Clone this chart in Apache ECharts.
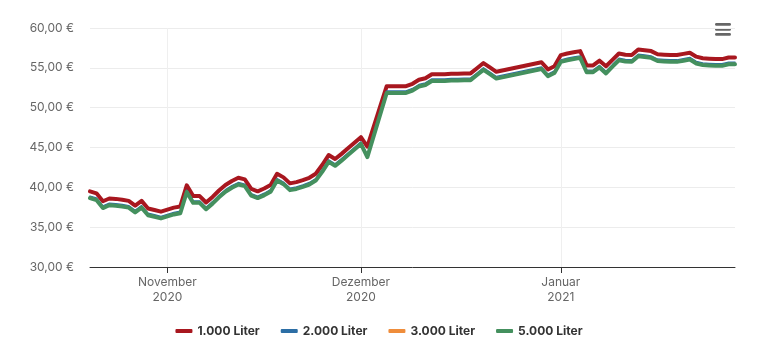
<!DOCTYPE html>
<html lang="de">
<head>
<meta charset="utf-8">
<title>Heizölpreis</title>
<script src="https://cdn.jsdelivr.net/npm/echarts@6/dist/echarts.min.js"></script>
<style>
  html, body { margin: 0; padding: 0; background: #fff; }
  #chart { width: 758px; height: 348px; }
</style>
</head>
<body>
<div id="chart"></div>
<script>
// Price history (€ per 100 L) by order quantity
const dates = [
  '2020-10-20','2020-10-21','2020-10-22','2020-10-23','2020-10-24','2020-10-25','2020-10-26','2020-10-27','2020-10-28','2020-10-29','2020-10-30','2020-10-31',
  '2020-11-01','2020-11-02','2020-11-03','2020-11-04','2020-11-05','2020-11-06','2020-11-07','2020-11-08','2020-11-09','2020-11-10',
  '2020-11-11','2020-11-12','2020-11-13','2020-11-14','2020-11-15','2020-11-16','2020-11-17','2020-11-18','2020-11-19','2020-11-20',
  '2020-11-21','2020-11-22','2020-11-23','2020-11-24','2020-11-25','2020-11-26','2020-11-27','2020-11-28','2020-11-29','2020-11-30',
  '2020-12-01','2020-12-02',
  '2020-12-05','2020-12-06','2020-12-07','2020-12-08','2020-12-09','2020-12-10','2020-12-11','2020-12-12','2020-12-13','2020-12-14',
  '2020-12-15','2020-12-16','2020-12-17','2020-12-18','2020-12-19','2020-12-20','2020-12-21','2020-12-22',
  '2020-12-29','2020-12-30','2020-12-31',
  '2021-01-01','2021-01-02','2021-01-03','2021-01-04','2021-01-05','2021-01-06','2021-01-07','2021-01-08','2021-01-09','2021-01-10',
  '2021-01-11','2021-01-12','2021-01-13','2021-01-14','2021-01-15','2021-01-16','2021-01-17','2021-01-18','2021-01-19','2021-01-20',
  '2021-01-21','2021-01-22','2021-01-23','2021-01-24','2021-01-25','2021-01-26','2021-01-27','2021-01-28'
];

const liter1000 = [
  39.5, 39.25, 38.25, 38.6, 38.55, 38.45, 38.3, 37.7, 38.3, 37.35, 37.15, 36.95,
  37.2, 37.45, 37.6, 40.25, 38.9, 38.9, 38.1, 38.8, 39.6, 40.3,
  40.8, 41.2, 41.0, 39.8, 39.5, 39.85, 40.3, 41.7, 41.25, 40.5,
  40.65, 40.9, 41.2, 41.7, 42.8, 44.05, 43.55, 44.2, 44.9, 45.6,
  46.3, 45.1,
  52.7, 52.7, 52.7, 52.7, 53.0, 53.5, 53.7, 54.2, 54.2, 54.2,
  54.25, 54.25, 54.3, 54.3, 54.95, 55.6, 55.05, 54.5,
  55.7, 54.8, 55.2,
  56.6, 56.8, 56.95, 57.1, 55.3, 55.3, 55.9, 55.2, 56.0, 56.8,
  56.65, 56.6, 57.3, 57.2, 57.1, 56.7, 56.65, 56.6, 56.6, 56.75,
  56.9, 56.4, 56.2, 56.15, 56.1, 56.1, 56.3, 56.3
];

const liter2000 = [
  38.9, 38.65, 37.65, 38.0, 37.95, 37.85, 37.7, 37.1, 37.7, 36.75, 36.55, 36.35,
  36.6, 36.85, 37.0, 39.65, 38.3, 38.3, 37.5, 38.2, 39.0, 39.7,
  40.2, 40.6, 40.4, 39.2, 38.9, 39.25, 39.7, 41.1, 40.65, 39.9,
  40.05, 40.3, 40.6, 41.1, 42.2, 43.45, 42.95, 43.6, 44.3, 45.0,
  45.7, 44.05,
  52.1, 52.1, 52.1, 52.1, 52.4, 52.9, 53.1, 53.6, 53.6, 53.6,
  53.65, 53.65, 53.7, 53.7, 54.35, 55.0, 54.45, 53.9,
  55.1, 54.2, 54.6,
  56.0, 56.2, 56.35, 56.5, 54.7, 54.7, 55.3, 54.55, 55.4, 56.2,
  56.05, 56.0, 56.7, 56.6, 56.5, 56.1, 56.05, 56.0, 56.0, 56.15,
  56.3, 55.8, 55.6, 55.55, 55.5, 55.5, 55.7, 55.7
];

const liter3000 = [
  38.75, 38.5, 37.5, 37.85, 37.8, 37.7, 37.55, 36.95, 37.55, 36.6, 36.4, 36.2,
  36.45, 36.7, 36.85, 39.5, 38.15, 38.15, 37.35, 38.05, 38.85, 39.55,
  40.05, 40.45, 40.25, 39.05, 38.75, 39.1, 39.55, 40.95, 40.5, 39.75,
  39.9, 40.15, 40.45, 40.95, 42.05, 43.3, 42.8, 43.45, 44.15, 44.85,
  45.55, 43.9,
  51.95, 51.95, 51.95, 51.95, 52.25, 52.75, 52.95, 53.45, 53.45, 53.45,
  53.5, 53.5, 53.55, 53.55, 54.2, 54.85, 54.3, 53.75,
  54.95, 54.05, 54.45,
  55.85, 56.05, 56.2, 56.35, 54.55, 54.55, 55.15, 54.4, 55.25, 56.05,
  55.9, 55.85, 56.55, 56.45, 56.35, 55.95, 55.9, 55.85, 55.85, 56.0,
  56.15, 55.65, 55.45, 55.4, 55.35, 55.35, 55.55, 55.55
];

const liter5000 = [
  38.65, 38.4, 37.4, 37.75, 37.7, 37.6, 37.45, 36.85, 37.45, 36.5, 36.3, 36.1,
  36.35, 36.6, 36.75, 39.4, 38.05, 38.05, 37.25, 37.95, 38.75, 39.45,
  39.95, 40.35, 40.15, 38.95, 38.65, 39.0, 39.45, 40.85, 40.4, 39.65,
  39.8, 40.05, 40.35, 40.85, 41.95, 43.2, 42.7, 43.35, 44.05, 44.75,
  45.45, 43.8,
  51.85, 51.85, 51.85, 51.85, 52.15, 52.65, 52.85, 53.35, 53.35, 53.35,
  53.4, 53.4, 53.45, 53.45, 54.1, 54.75, 54.2, 53.65,
  54.85, 53.95, 54.35,
  55.75, 55.95, 56.1, 56.25, 54.45, 54.45, 55.05, 54.3, 55.15, 55.95,
  55.8, 55.75, 56.45, 56.35, 56.25, 55.85, 55.8, 55.75, 55.75, 55.9,
  56.05, 55.55, 55.35, 55.3, 55.25, 55.25, 55.45, 55.45
];

const seriesNames = ['1.000 Liter', '2.000 Liter', '3.000 Liter', '5.000 Liter'];
const monthTicks = ['2020-11-01', '2020-12-01', '2021-01-01'];
const monthNames = ['Januar', 'Februar', 'März', 'April', 'Mai', 'Juni', 'Juli',
  'August', 'September', 'Oktober', 'November', 'Dezember'];
const yMin = 30, yMax = 60, yStep = 5;

const FONT = 'Inter, "Noto Sans", sans-serif';
const colors = ['#a8171f', '#2c6ea5', '#ef8d3b', '#44905e'];
const widths = [4, 1.5, 1.5, 4];

// dates are placed on a numeric (millisecond) axis so the month ticks can be pinned
const toTime = s => {
  const [y, m, d] = s.split('-').map(Number);
  return Date.UTC(y, m - 1, d);
};
const tickTimes = monthTicks.map(toTime);
const allValues = [liter1000, liter2000, liter3000, liter5000];

const series = allValues.map((vals, i) => ({
  name: seriesNames[i],
  type: 'line',
  showSymbol: false,
  symbol: 'none',
  smooth: false,
  color: colors[i],
  lineStyle: { width: widths[i], color: colors[i], join: 'round', cap: 'round' },
  emphasis: { disabled: true },
  data: dates.map((d, k) => [toTime(d), vals[k]])
}));

// faint vertical guides at the month boundaries
series[0].markLine = {
  silent: true,
  symbol: 'none',
  z: 1,
  label: { show: false },
  lineStyle: { color: '#efefef', type: 'solid', width: 1 },
  data: tickTimes.map(t => ({ xAxis: t }))
};

const chart = echarts.init(document.getElementById('chart'), null, { renderer: 'canvas' });
chart.setOption({
  animation: false,
  backgroundColor: '#ffffff',
  textStyle: { fontFamily: FONT },
  grid: { left: 90, right: 23, top: 28, bottom: 81, containLabel: false },
  legend: {
    bottom: 6,
    left: 'center',
    icon: 'roundRect',
    itemWidth: 17,
    itemHeight: 4,
    itemGap: 21,
    data: seriesNames,
    textStyle: { fontFamily: FONT, fontSize: 12, fontWeight: 'bold', color: '#333333' }
  },
  xAxis: {
    type: 'value',
    min: 'dataMin',
    max: 'dataMax',
    scale: true,
    axisLine: { show: true, lineStyle: { color: '#333333', width: 1 } },
    axisTick: { show: true, length: 6, lineStyle: { color: '#333333' }, customValues: tickTimes },
    splitLine: { show: false },
    axisLabel: {
      customValues: tickTimes,
      color: '#666666',
      fontSize: 12,
      lineHeight: 15,
      margin: 8,
      fontFamily: FONT,
      formatter: v => {
        const d = new Date(v);
        return monthNames[d.getUTCMonth()] + '\n' + d.getUTCFullYear();
      }
    }
  },
  yAxis: {
    type: 'value',
    min: yMin,
    max: yMax,
    interval: yStep,
    axisLine: { show: false },
    axisTick: { show: false },
    splitLine: { show: true, lineStyle: { color: '#ececec', width: 1 } },
    axisLabel: {
      color: '#666666',
      fontSize: 12,
      margin: 16,
      fontFamily: FONT,
      formatter: v => v.toFixed(2).replace('.', ',') + ' €'
    }
  },
  graphic: [{
    type: 'group',
    right: 27,
    top: 23,
    children: [0, 5, 10].map(dy => ({
      type: 'rect',
      shape: { x: 0, y: dy, width: 16, height: 2.8, r: 1.4 },
      style: { fill: '#666666' }
    }))
  }],
  series: series
});
</script>
</body>
</html>
